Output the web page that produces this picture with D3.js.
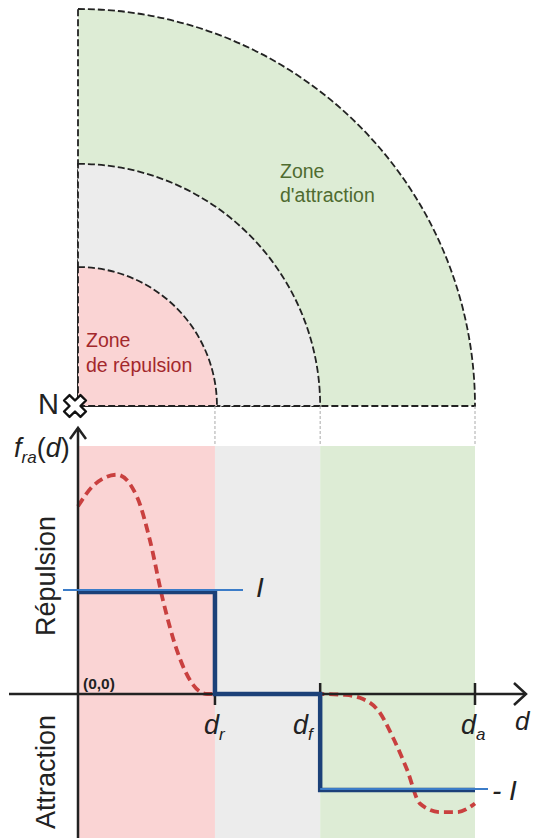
<!DOCTYPE html>
<html>
<head>
<meta charset="utf-8">
<script src="https://cdn.jsdelivr.net/npm/d3@7"></script>
<style>
  html, body { margin: 0; padding: 0; background: #fff; }
  svg { display: block; font-family: "Liberation Sans", Arial, sans-serif; }
</style>
</head>
<body>
<svg id="chart" width="533" height="838"></svg>
<script>
// ---------- DATA ----------
const zoneNames = ["répulsion", "neutre", "attraction"];
const zoneBounds = [0, 34.5, 61, 100];          // 0, d_r, d_f, d_a (distance units)
const tickMain = ["d", "d", "d"];
const tickSub = ["r", "f", "a"];
const levelValues = [1, -1];                       // I and -I
const levelLabels = ["I", "- I"];
const stepX = [0, 34.5, 34.5, 61, 61, 100];
const stepY = [1, 1, 0, 0, -1, -1];
const curveX = [0, 3.8, 9.8, 14.9, 18.1, 21.4, 24.9, 29.0, 32.5, 34.5, 61, 67.3, 71.0, 76.1, 79.3, 82.9, 86.1, 91.2, 95.5, 100];
const curveY = [1.84, 2.04, 2.15, 1.93, 1.51, 0.92, 0.43, 0.09, 0.0, 0.0, 0.0, -0.01, -0.04, -0.2, -0.45, -0.79, -1.14, -1.23, -1.23, -1.14];

// ---------- STYLE ----------
const zoneFill = ["#fad4d4", "#ececec", "#ddecd5"];
const svg = d3.select("#chart");

const x = d3.scaleLinear().domain([0, 100]).range([78, 475]);
const y = d3.scaleLinear().domain([-1, 0, 1]).range([790, 694, 592]);
const origin = { x: x(0), y: 406 };

// ---------- TOP: quarter discs ----------
const topG = svg.append("g").attr("transform", `translate(${origin.x},${origin.y})`);
[3, 2, 1].forEach(i => {
  const r = x(zoneBounds[i]) - x(0) + (i === 1 ? 2 : 0);
  topG.append("path")
    .attr("d", d3.arc().innerRadius(0).outerRadius(r).startAngle(0).endAngle(Math.PI / 2)())
    .attr("fill", zoneFill[i - 1])
    .attr("stroke", "#222").attr("stroke-width", 1.8)
    .attr("stroke-dasharray", "7,3");
});

// zone labels
const repText = svg.append("text").attr("fill", "#a3282c").attr("font-size", 19.5);
repText.append("tspan").attr("x", 86).attr("y", 347).text("Zone");
repText.append("tspan").attr("x", 86).attr("y", 372).text("de répulsion");
const attText = svg.append("text").attr("fill", "#4f6b30").attr("font-size", 19.5);
attText.append("tspan").attr("x", 280).attr("y", 178).text("Zone");
attText.append("tspan").attr("x", 280).attr("y", 202).text("d'attraction");

// ---------- BOTTOM: bands ----------
const bandTop = 446;
zoneBounds.slice(0, 3).forEach((b, i) => {
  svg.append("rect")
    .attr("x", x(b)).attr("y", bandTop)
    .attr("width", x(zoneBounds[i + 1]) - x(b))
    .attr("height", 838 - bandTop)
    .attr("fill", zoneFill[i]);
});
// connectors
zoneBounds.slice(1).forEach(b => {
  svg.append("line")
    .attr("x1", x(b)).attr("x2", x(b))
    .attr("y1", origin.y).attr("y2", bandTop)
    .attr("stroke", "#aaa").attr("stroke-width", 1)
    .attr("stroke-dasharray", "3,2");
});

// red dashed curve
svg.append("path")
  .datum(curveX.map((d, i) => [d, curveY[i]]))
  .attr("d", d3.line().x(d => x(d[0])).y(d => y(d[1])).curve(d3.curveMonotoneX))
  .attr("fill", "none").attr("stroke", "#c9403f")
  .attr("stroke-width", 3.8).attr("stroke-dasharray", "9,5");

// axes
const axisColor = "#222";
svg.append("line").attr("x1", 9).attr("x2", 526).attr("y1", y(0)).attr("y2", y(0))
  .attr("stroke", axisColor).attr("stroke-width", 2.5);
svg.append("line").attr("x1", x(0)).attr("x2", x(0)).attr("y1", 428).attr("y2", 838)
  .attr("stroke", axisColor).attr("stroke-width", 2.5);
// arrowheads
svg.append("path").attr("d", `M${x(0) - 8},${439} L${x(0)},${428} L${x(0) + 8},${439}`)
  .attr("fill", "none").attr("stroke", axisColor).attr("stroke-width", 2.5);
svg.append("path").attr("d", `M514,${y(0) - 11} L526,${y(0)} L514,${y(0) + 11}`)
  .attr("fill", "none").attr("stroke", axisColor).attr("stroke-width", 2.5);

// ticks
const tickExt = [[0, 11], [-11, 0], [-11, 11]];
zoneBounds.slice(1).forEach((b, i) => {
  svg.append("line").attr("x1", x(b)).attr("x2", x(b))
    .attr("y1", y(0) + tickExt[i][0]).attr("y2", y(0) + tickExt[i][1])
    .attr("stroke", axisColor).attr("stroke-width", 2.5);
});

// blue step function
const stepPts = stepX.map((d, i) => [d, stepY[i]]);
svg.append("path").datum(stepPts)
  .attr("d", d3.line().x(d => x(d[0])).y(d => y(d[1])))
  .attr("fill", "none").attr("stroke", "#1b4078").attr("stroke-width", 4.5);
// light blue level lines
svg.append("line").attr("x1", 63).attr("x2", 243).attr("y1", y(levelValues[0]) - 2).attr("y2", y(levelValues[0]) - 2)
  .attr("stroke", "#3b7cc8").attr("stroke-width", 2);
svg.append("line").attr("x1", x(zoneBounds[2])).attr("x2", 488).attr("y1", y(levelValues[1]) - 1).attr("y2", y(levelValues[1]) - 1)
  .attr("stroke", "#3b7cc8").attr("stroke-width", 2);

// level labels
svg.append("text").attr("x", 256).attr("y", 597).attr("font-size", 28).attr("font-style", "italic")
  .attr("fill", "#222").text(levelLabels[0]);
svg.append("text").attr("x", 492).attr("y", 800).attr("font-size", 28).attr("font-style", "italic")
  .attr("fill", "#222").text(levelLabels[1]);

// tick labels
const tickLabelX = [204, 293, 461];
tickMain.forEach((m, i) => {
  const t = svg.append("text").attr("x", tickLabelX[i]).attr("y", 734)
    .attr("font-size", 27).attr("font-style", "italic").attr("fill", "#222");
  t.append("tspan").text(m);
  t.append("tspan").attr("font-size", 17).attr("dy", 6).text(tickSub[i]);
});
svg.append("text").attr("x", 515).attr("y", 730).attr("font-size", 26)
  .attr("font-style", "italic").attr("fill", "#222").text("d");

// origin label
svg.append("text").attr("x", 83).attr("y", 689).attr("font-size", 15.5)
  .attr("font-weight", "bold").attr("fill", "#222").text("(0,0)");

// y-axis title
const fy = svg.append("text").attr("x", 14).attr("y", 457).attr("font-size", 27).attr("fill", "#222");
fy.append("tspan").attr("font-style", "italic").text("f");
fy.append("tspan").attr("font-style", "italic").attr("font-size", 17).attr("dy", 6).text("ra");
fy.append("tspan").attr("dy", -6).text("(");
fy.append("tspan").attr("font-style", "italic").text("d");
fy.append("tspan").text(")");

// side labels
svg.append("text").attr("transform", "translate(55,576) rotate(-90)")
  .attr("text-anchor", "middle").attr("font-size", 27).attr("fill", "#222").text("Répulsion");
svg.append("text").attr("transform", "translate(55,772) rotate(-90)")
  .attr("text-anchor", "middle").attr("font-size", 27).attr("fill", "#222").text("Attraction");

// N + marker
svg.append("text").attr("x", 38).attr("y", 414).attr("font-size", 29).attr("fill", "#222").text("N");
svg.append("path")
  .attr("d", d3.symbol().type(d3.symbolCross).size(300)())
  .attr("transform", `translate(${origin.x - 3},${origin.y}) rotate(45)`)
  .attr("fill", "#fff").attr("stroke", "#111").attr("stroke-width", 2.4).attr("stroke-linejoin", "round");
</script>
</body>
</html>
